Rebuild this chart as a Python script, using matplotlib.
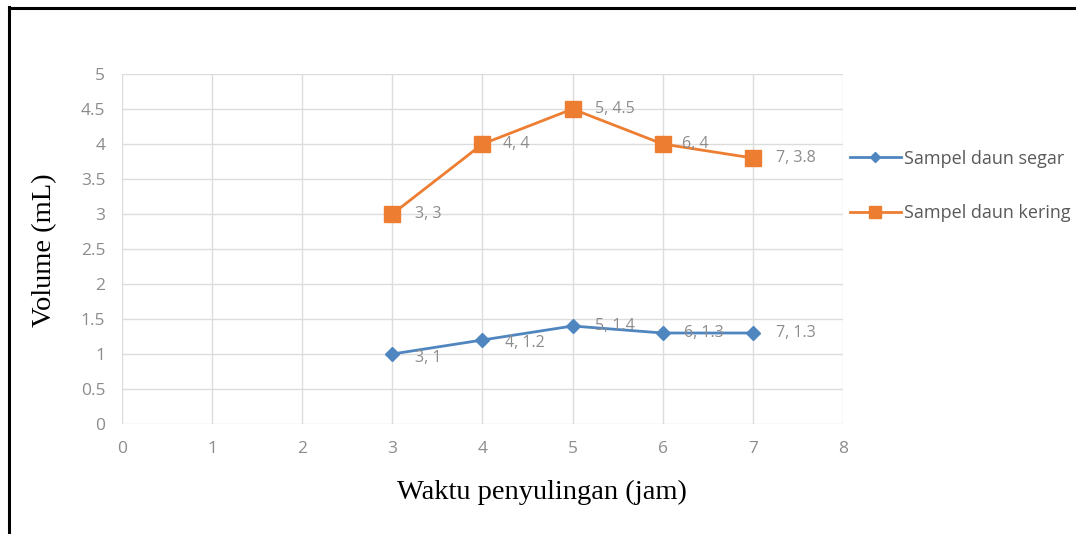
import matplotlib.pyplot as plt
from matplotlib.lines import Line2D

# data
waktu = [3, 4, 5, 6, 7]
segar = [1, 1.2, 1.4, 1.3, 1.3]
kering = [3, 4, 4.5, 4, 3.8]
lbl_segar = ["3, 1", "4, 1.2", "5, 1.4", "6, 1.3", "7, 1.3"]
lbl_kering = ["3, 3", "4, 4", "5, 4.5", "6, 4", "7, 3.8"]

blue = "#4F86C0"
orange = "#ED7D31"
tick_col = "#8c8c8c"

fig = plt.figure(figsize=(10.76, 5.34), dpi=100)
ax = fig.add_axes([0.1134, 0.206, 0.670, 0.6554])

ax.plot(waktu, segar, color=blue, marker="D", markersize=7.5, lw=2,
        label="Sampel daun segar")
ax.plot(waktu, kering, color=orange, marker="s", markersize=12, lw=2,
        label="Sampel daun kering")

# data labels
offs_segar = [(16, -3), (16, -2), (16, 0), (15, 0), (17, 0)]
for x, y, t, o in zip(waktu, segar, lbl_segar, offs_segar):
    ax.annotate(t, (x, y), xytext=o, textcoords="offset points",
                va="center", ha="left", color=tick_col, fontsize=11.5,
                family="Open Sans")
offs_kering = [(16, 0), (15, 0), (16, 0), (14, 0), (17, 0)]
for x, y, t, o in zip(waktu, kering, lbl_kering, offs_kering):
    ax.annotate(t, (x, y), xytext=o, textcoords="offset points",
                va="center", ha="left", color=tick_col, fontsize=11.5,
                family="Open Sans")

ax.set_xlim(0, 8)
ax.set_ylim(0, 5)
ax.set_xticks(range(0, 9))
ax.set_yticks([i * 0.5 for i in range(11)])
ax.set_yticklabels(["0", "0.5", "1", "1.5", "2", "2.5", "3", "3.5", "4", "4.5", "5"])
ax.tick_params(length=0, colors=tick_col, labelsize=12.5, pad=12)
for lab in ax.get_xticklabels() + ax.get_yticklabels():
    lab.set_family("Open Sans")
ax.grid(True, color="#dcdcdc", lw=1)
ax.set_axisbelow(True)
for s in ax.spines.values():
    s.set_visible(False)

ax.set_xlabel("Waktu penyulingan (jam)", family="Liberation Serif",
              fontsize=20.5, va="center")
ax.xaxis.set_label_coords(0.5825, -0.195)
ax.set_ylabel("Volume (mL)", family="Liberation Serif", fontsize=20.5,
              va="center")
ax.yaxis.set_label_coords(-0.107, 0.497)

leg = fig.legend(loc="center left", bbox_to_anchor=(0.79, 0.652),
                 frameon=False, prop={"family": "Open Sans", "size": 13},
                 labelspacing=2.0, handlelength=2.8, handletextpad=0.17,
                 borderpad=0, borderaxespad=0, markerscale=0.7,
                 labelcolor="#595959")

# outer border (left and top only visible)
fig.add_artist(Line2D([0.0088, 0.0088], [0, 0.987], transform=fig.transFigure,
                      color="black", lw=2.2))
fig.add_artist(Line2D([0.0088, 1], [0.985, 0.985], transform=fig.transFigure,
                      color="black", lw=2.2))

fig.savefig("out.png", dpi=100)
